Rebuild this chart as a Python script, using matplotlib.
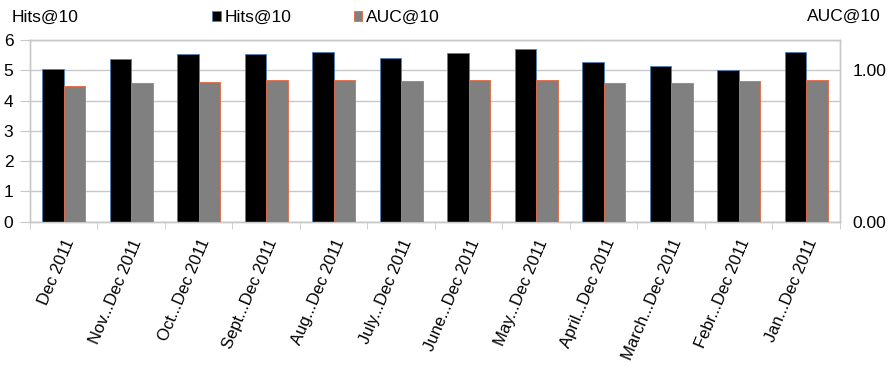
import numpy as np
import matplotlib.pyplot as plt

plt.rcParams['font.family'] = ['Liberation Sans', 'DejaVu Sans']

periods = ['Dec 2011', 'Nov...Dec 2011', 'Oct...Dec 2011', 'Sept...Dec 2011',
           'Aug...Dec 2011', 'July...Dec 2011', 'June...Dec 2011', 'May...Dec 2011',
           'April...Dec 2011', 'March...Dec 2011', 'Febr...Dec 2011', 'Jan...Dec 2011']
hits10 = [5.03, 5.39, 5.53, 5.53, 5.61, 5.41, 5.59, 5.70, 5.26, 5.15, 5.01, 5.61]
auc10 = [0.896, 0.914, 0.924, 0.936, 0.936, 0.929, 0.936, 0.933, 0.918, 0.914, 0.930, 0.936]

grid_c = '#c8c8c8'
fs = 12.5
x = np.arange(len(periods))
w = 0.32

fig = plt.figure(figsize=(8.9, 3.68), dpi=100)
ax = fig.add_axes([0.0337, 0.398, 0.9101, 0.493])
ax2 = ax.twinx()

ax.bar(x - w / 2, hits10, w, color='black', edgecolor='#4f81bd', linewidth=0.6,
       label='Hits@10', zorder=3)
ax2.bar(x + w / 2, auc10, w, color='#808080', edgecolor='#e8663c', linewidth=0.6,
        label='AUC@10', zorder=3)

ax.set_xlim(-0.5, len(periods) - 0.5)
ax.set_ylim(0, 6)
ax2.set_ylim(0, 1.2)
ax.set_yticks(range(7))
ax2.set_yticks([0, 1.0])
ax2.set_yticklabels(['0.00', '1.00'])

ax.yaxis.grid(True, color=grid_c, linewidth=1, zorder=0)
ax.set_axisbelow(True)

ax.set_xticks(x)
ax.set_xticklabels(periods, rotation=67, ha='right', rotation_mode='anchor', fontsize=12)
ax.set_xticks(np.arange(-0.5, len(periods)), minor=True)
ax.tick_params(axis='x', which='major', length=0, pad=11)
ax.tick_params(axis='x', which='minor', length=5, color=grid_c)
ax.tick_params(axis='y', length=7, color=grid_c, labelsize=fs, pad=5)
ax2.tick_params(axis='y', length=0, labelsize=fs, pad=9)

for a in (ax, ax2):
    for s in a.spines.values():
        s.set_color(grid_c)
        s.set_linewidth(1)

fig.text(0.013, 0.952, 'Hits@10', fontsize=fs, va='center', ha='left')
fig.text(0.99, 0.955, 'AUC@10', fontsize=fs, va='center', ha='right')

h1, l1 = ax.get_legend_handles_labels()
h2, l2 = ax2.get_legend_handles_labels()
fig.legend(h1 + h2, l1 + l2, loc='center', bbox_to_anchor=(0.366, 0.952), ncol=2,
           frameon=False, fontsize=fs, handlelength=0.5, handleheight=0.5,
           handletextpad=0.2, columnspacing=3.6)

fig.savefig('out.png', dpi=100)
